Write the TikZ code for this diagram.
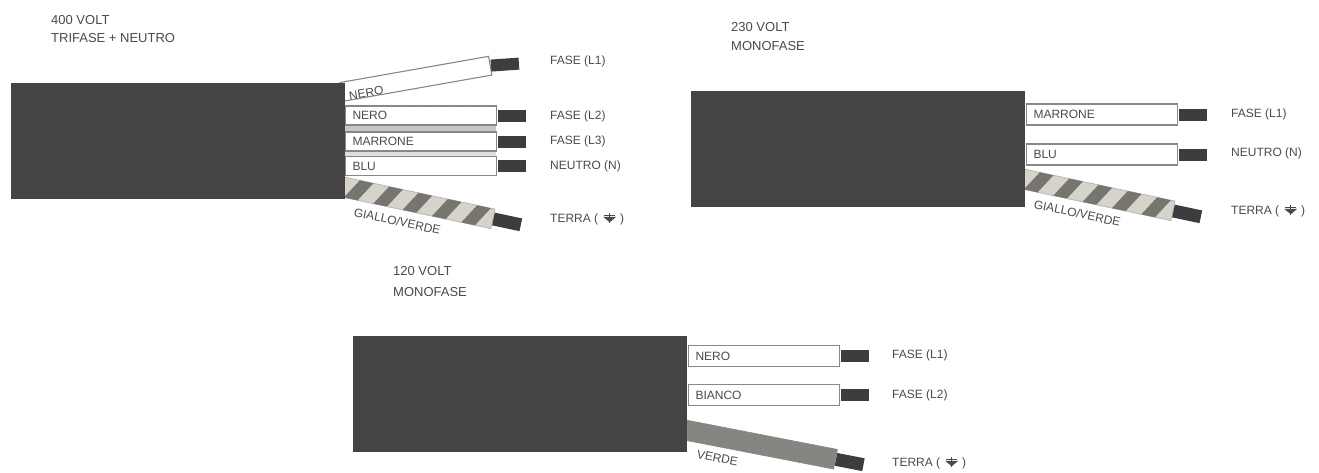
\documentclass[tikz,border=0pt]{standalone}
\usepackage{fontspec}
\setmainfont{Liberation Sans}
\usetikzlibrary{positioning}
\definecolor{cabledark}{HTML}{454343}
\definecolor{tipdark}{HTML}{3E3C3C}
\definecolor{wireedge}{HTML}{8A8886}
\definecolor{labelgray}{HTML}{4A4A4A}
\definecolor{stripedark}{HTML}{77756F}
\definecolor{stripelight}{HTML}{D6D4CA}
\definecolor{greenwire}{HTML}{858582}
\tikzset{
  cable/.style = {rectangle, fill=cabledark, inner sep=0pt,
    minimum width=334pt, minimum height=116pt},
  wire/.style = {rectangle, draw=wireedge, line width=1.1pt, fill=white, anchor=west,
    inner sep=0pt, minimum width=151pt, minimum height=19pt,
    text width=137pt, align=left, font=\fontsize{12}{12}\selectfont, text=labelgray},
  tip/.style = {rectangle, fill=tipdark, inner sep=0pt, anchor=west,
    minimum width=28pt, minimum height=12pt},
  lab/.style = {inner sep=0pt, anchor=west, font=\fontsize{12}{12}\selectfont, text=labelgray},
  title/.style = {lab, font=\fontsize{13}{13}\selectfont},
  hull/.style = {rectangle, inner sep=0pt, anchor=west, draw=wireedge!70, line width=.6pt,
    minimum width=153pt, minimum height=20pt}
}
\newcommand{\stripedhull}[3]{% node name, start, slope
  \node[hull, fill=stripelight, rotate=#3] (#1) at (#2) {};
  \begin{scope}[shift={(#1.west)},rotate=#3]
    \clip (0,-10) rectangle (153,10);
    \foreach \i in {0,...,5}
      \fill[stripedark] (3+30*\i,10) -- (17+30*\i,10) -- (29+30*\i,-10) -- (15+30*\i,-10) -- cycle;
  \end{scope}
}
\newcommand{\earth}{(\hspace{5pt}\tikz[x=1pt,y=1pt,baseline=0pt]{
  \fill[labelgray] (0,6) -- (13,6) -- (6.5,0.5) -- cycle;
  \draw[labelgray, line width=1.2pt] (6.5,9.5) -- (6.5,0);
  \draw[labelgray, line width=.9pt] (1,7) -- (12,7);}\hspace{4pt})}
\begin{document}
\begin{tikzpicture}[x=1pt,y=-1pt]
\useasboundingbox (0,0) rectangle (1319,472);
% 400 volt
\node[title] (titleAa) at (51,20) {400 VOLT};
\node[title] (titleAb) at (51,38) {TRIFASE + NEUTRO};
\fill[gray!45] (345,125) rectangle (496,132);
\fill[gray!25] (345,150) rectangle (496,157);
\node[wire, rotate=10, minimum height=19pt] (wireAa) at (341,92) {};
\node[lab, rotate=10] (textAa) at (349,96) {NERO};
\node[tip, rotate=4] (tipAa) at (wireAa.east) {};
\node[wire] (wireAb) at (345,115.5) {NERO};
\node[wire] (wireAc) at (345,141.5) {MARRONE};
\node[wire] (wireAd) at (345,166) {BLU};
\node[tip, right=1pt of wireAb] (tipAb) {};
\node[tip, right=1pt of wireAc] (tipAc) {};
\node[tip, right=1pt of wireAd] (tipAd) {};
\stripedhull{hullA}{343,187}{-12}
\node[tip, rotate=-12, minimum height=13pt] (tipAe) at (hullA.east) {};
\node[lab, rotate=-12] (textAe) at (354,212) {GIALLO/VERDE};
\node[cable] (cableA) at (177.5,140.5) {};
\node[lab] (fasAa) at (550,61) {FASE (L1)};
\node[lab] (fasAb) at (550,116) {FASE (L2)};
\node[lab] (fasAc) at (550,141) {FASE (L3)};
\node[lab] (fasAd) at (550,166) {NEUTRO (N)};
\node[lab] (fasAe) at (550,219) {TERRA \earth};
% 230 volt
\node[title] (titleBa) at (731,27) {230 VOLT};
\node[title] (titleBb) at (731,46) {MONOFASE};
\node[wire, minimum height=21pt] (wireBa) at (1026,114.5) {MARRONE};
\node[wire, minimum height=21pt] (wireBb) at (1026,154.5) {BLU};
\node[tip, right=1pt of wireBa] (tipBa) {};
\node[tip, right=1pt of wireBb] (tipBb) {};
\stripedhull{hullB}{1023,179}{-12}
\node[tip, rotate=-12, minimum height=13pt] (tipBc) at (hullB.east) {};
\node[lab, rotate=-12] (textBc) at (1034,204) {GIALLO/VERDE};
\node[cable] (cableB) at (858,149) {};
\node[lab] (fasBa) at (1231,114) {FASE (L1)};
\node[lab] (fasBb) at (1231,153) {NEUTRO (N)};
\node[lab] (fasBc) at (1231,211) {TERRA \earth};
% 120 volt
\node[title] (titleCa) at (393,271) {120 VOLT};
\node[title] (titleCb) at (393,292) {MONOFASE};
\node[wire, minimum height=21pt] (wireCa) at (688,356) {NERO};
\node[wire, minimum height=21pt] (wireCb) at (688,395) {BIANCO};
\node[tip, right=1pt of wireCa] (tipCa) {};
\node[tip, right=1pt of wireCb] (tipCb) {};
\node[hull, fill=greenwire, draw=greenwire, rotate=-11] (hullC) at (685,430) {};
\node[tip, rotate=-11, minimum height=13pt] (tipCc) at (hullC.east) {};
\node[lab, rotate=-11] (textCc) at (697,454) {VERDE};
\node[cable] (cableC) at (520,394) {};
\node[lab] (fasCa) at (892,355) {FASE (L1)};
\node[lab] (fasCb) at (892,395) {FASE (L2)};
\node[lab] (fasCc) at (892,463) {TERRA \earth};
\end{tikzpicture}
\end{document}
